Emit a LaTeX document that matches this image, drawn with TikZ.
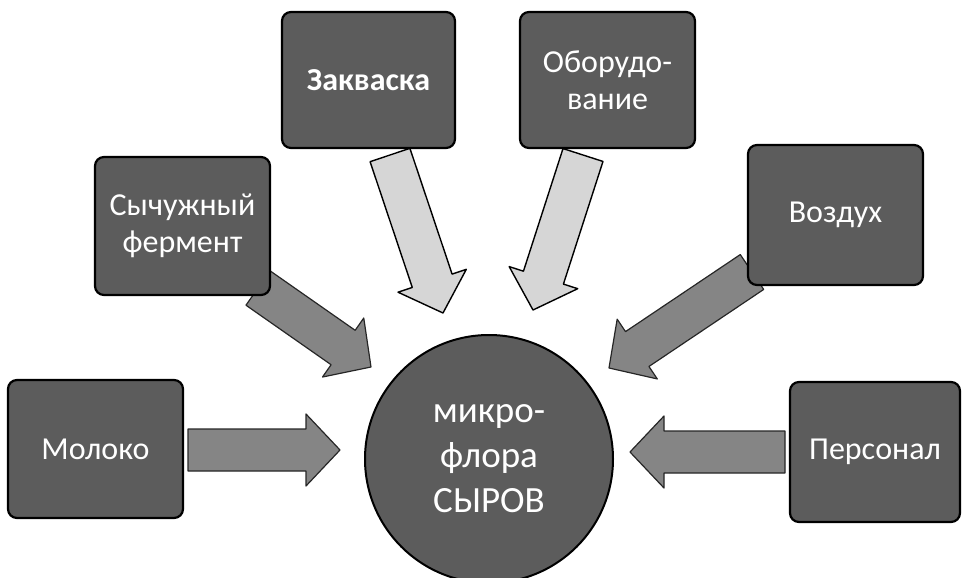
\documentclass[tikz,border=0pt]{standalone}
\usepackage{fontspec}
\setmainfont{Carlito}
\usetikzlibrary{calc}
\tikzset{
  boxnode/.style={draw=black, line width=2.2pt, fill=black!64, rounded corners=9pt,
    text=white, align=center, inner sep=0pt,
    font=\fontsize{32}{37}\selectfont},
  circnode/.style={circle, draw=black, line width=2pt, fill=black!64, text=white,
    align=center, inner sep=0pt, font=\fontsize{37}{45}\selectfont},
  darkarr/.style={fill=black!48, draw=black!85, line width=1.2pt, line join=round},
  lightarr/.style={fill=black!16, draw=black, line width=1.4pt, line join=round}
}
\newcommand{\blockarr}[3]{%
  \coordinate (tmpB) at ($(#2)!34pt!(#1)$);
  \path[#3] ($(#1)!21pt!90:(#2)$) -- ($(tmpB)!21pt!90:(#2)$) -- ($(tmpB)!36pt!90:(#2)$)
    -- (#2) -- ($(tmpB)!36pt!-90:(#2)$) -- ($(tmpB)!21pt!-90:(#2)$)
    -- ($(#1)!21pt!-90:(#2)$) -- cycle;%
}
\begin{document}
\begin{tikzpicture}[x=1pt,y=-1pt]
\useasboundingbox (0,0) rectangle (962,578);
\clip (0,0) rectangle (962,578);
% arrow end points
\coordinate (mS) at (188,450);  \coordinate (mT) at (340,450);
\coordinate (pS) at (785,452);  \coordinate (pT) at (630,452);
\coordinate (zS) at (390,155);  \coordinate (zT) at (443,313);
\coordinate (oS) at (583,155);  \coordinate (oT) at (533,310);
\coordinate (sS) at (258,288);  \coordinate (sT) at (371,367);
\coordinate (vS) at (752,272);  \coordinate (vT) at (609,368);
% arrows
\blockarr{mS}{mT}{darkarr}
\blockarr{pS}{pT}{darkarr}
\blockarr{sS}{sT}{darkarr}
\blockarr{vS}{vT}{darkarr}
\blockarr{zS}{zT}{lightarr}
\blockarr{oS}{oT}{lightarr}
% centre
\node[circnode, minimum size=248pt] (center) at (489,459) {микро-\\флора\\СЫРОВ};
% boxes
\node[boxnode, minimum width=175pt, minimum height=138pt] (moloko) at (95.5,449) {Молоко};
\node[boxnode, minimum width=175pt, minimum height=138pt] (rennet) at (182.5,226) {Сычужный\\фермент};
\node[boxnode, minimum width=173pt, minimum height=136pt] (starter) at (368.5,80) {\bfseries Закваска};
\node[boxnode, minimum width=175pt, minimum height=136pt] (equip) at (607.5,80) {Оборудо-\\вание};
\node[boxnode, minimum width=175pt, minimum height=140pt] (air) at (835.5,215) {Воздух};
\node[boxnode, minimum width=170pt, minimum height=140pt] (staff) at (875,452) {Персонал};
\end{tikzpicture}
\end{document}
